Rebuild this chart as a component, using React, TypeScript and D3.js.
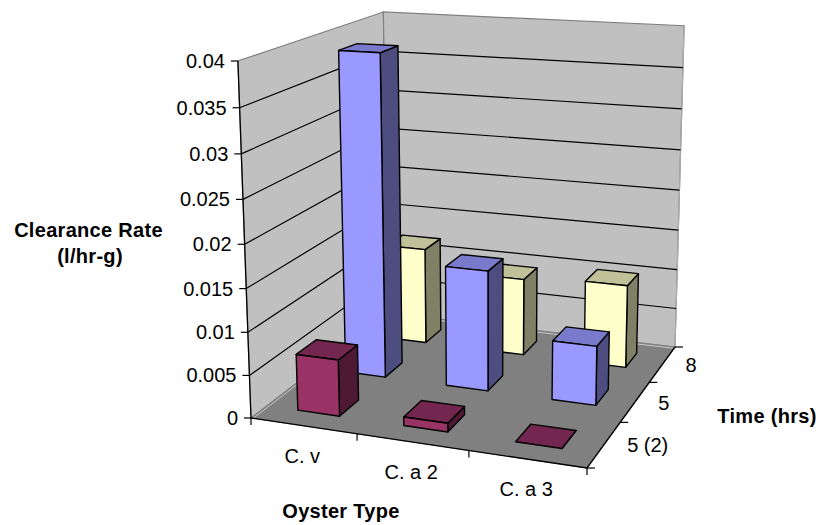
import React from "react";
import * as d3 from "d3";

const categories = ["C. v", "C. a 2", "C. a 3"];
const depthLabels = ["5 (2)", "5", "8"];
const valueTicks = [0, 0.005, 0.01, 0.015, 0.02, 0.025, 0.03, 0.035, 0.04];
const seriesFront = [0.0066, 0.001, 0];
const seriesMiddle = [0.0387, 0.0144, 0.007];
const seriesBack = [0.0121, 0.0096, 0.0102];
const seriesRows = [seriesBack, seriesMiddle, seriesFront];
const rowDepth = ["8", "5", "5 (2)"];
const rowColors = [
  { front: "#FFFFCC", side: "#808066", top: "#C0C099" },
  { front: "#9999FF", side: "#4D4D80", top: "#7A7ACC" },
  { front: "#993366", side: "#4D1933", top: "#732650" },
];

const FA: [number, number] = [251, 418];
const FB: [number, number] = [587, 468];
const FC: [number, number] = [675, 347];
const FD: [number, number] = [388, 313];
const VP: [number, number] = [489, 6903];
const topLeftY = 61;

function homography() {
  const [x0, y0] = FA, [x1, y1] = FB, [x2, y2] = FC, [x3, y3] = FD;
  const dx1 = x1 - x2, dx2 = x3 - x2, sx = x0 - x1 + x2 - x3;
  const dy1 = y1 - y2, dy2 = y3 - y2, sy = y0 - y1 + y2 - y3;
  const den = dx1 * dy2 - dx2 * dy1;
  const g = (sx * dy2 - dx2 * sy) / den;
  const h = (dx1 * sy - sx * dy1) / den;
  return {
    a: x1 - x0 + g * x1, b: x3 - x0 + h * x3, c: x0,
    d: y1 - y0 + g * y1, e: y3 - y0 + h * y3, f: y0,
    g, h,
  };
}
const H = homography();
const K = (topLeftY - FA[1]) / (VP[1] - topLeftY);

function project(u: number, v: number, z: number): [number, number] {
  const px = H.a * u + H.b * v + H.c + z * K * VP[0];
  const py = H.d * u + H.e * v + H.f + z * K * VP[1];
  const w = H.g * u + H.h * v + 1 + z * K;
  return [px / w, py / w];
}

const xBand = d3.scaleBand<string>().domain(categories).range([0, 1]).paddingInner(0.6).paddingOuter(0.3);
const yBand = d3.scaleBand<string>().domain(depthLabels).range([0, 1]).paddingInner(0.6).paddingOuter(0.3);
const zScale = d3.scaleLinear().domain([0, 0.04]).range([0, 1]);
const line = d3.line<[number, number]>().curve(d3.curveLinearClosed);
const seg = d3.line<[number, number]>();

const FONT = "'Liberation Sans', Arial, sans-serif";
const TICK_SIZE = 20;
const TITLE_SIZE = 20;

function Bar({ u0, u1, v0, v1, z, c }: any) {
  const f = (u: number, v: number, zz: number) => project(u, v, zz);
  const stroke = { stroke: "#000", strokeWidth: 1.4, strokeLinejoin: "round" as const };
  return (
    <g>
      <path d={line([f(u1, v0, 0), f(u1, v1, 0), f(u1, v1, z), f(u1, v0, z)])!} fill={c.side} {...stroke} />
      <path d={line([f(u0, v0, z), f(u1, v0, z), f(u1, v1, z), f(u0, v1, z)])!} fill={c.top} {...stroke} />
      {z > 0 && <path d={line([f(u0, v0, 0), f(u1, v0, 0), f(u1, v0, z), f(u0, v0, z)])!} fill={c.front} {...stroke} />}
    </g>
  );
}

export default function App() {
  const stepU = xBand.step();
  const stepV = yBand.step();
  const yMid = (d: string) => yBand(d)! + yBand.bandwidth() / 2;
  const xEdges = d3.range(categories.length + 1).map((i) => i * stepU);
  const vEdges = d3.range(depthLabels.length + 1).map((i) => i * stepV);
  return (
    <svg width={820} height={525} style={{ position: "absolute", left: 0, top: 0 }} fontFamily={FONT}>
      <rect width={820} height={525} fill="#fff" />
      <path d={line([project(0, 0, 0), project(0, 1, 0), project(0, 1, 1), project(0, 0, 1)])!} fill="#C0C0C0" stroke="#808080" strokeWidth={1.2} />
      <path d={line([project(0, 1, 0), project(1, 1, 0), project(1, 1, 1), project(0, 1, 1)])!} fill="#C0C0C0" stroke="#808080" strokeWidth={1.2} />
      <path d={seg([project(1, 1, 0), project(1, 1, 1)])!} stroke="#ABABAB" strokeWidth={1.2} fill="none" />
      <path d={line([project(0, 0, 0), project(1, 0, 0), project(1, 1, 0), project(0, 1, 0)])!} fill="#808080" stroke="#808080" strokeWidth={1} />
      <path d={seg([project(0, 0, 0), project(0, 1, 0), project(1, 1, 0)])!} stroke="#C8C8C8" strokeWidth={1} fill="none" transform="translate(0.5,1.5)" />

      {valueTicks.slice(1, -1).map((t) => (
        <path key={t} d={seg([project(0, 0, zScale(t)), project(0, 1, zScale(t)), project(1, 1, zScale(t))])!} stroke="#000" strokeWidth={1.2} fill="none" />
      ))}

      <path d={seg([project(0, 0, 1), project(0, 0, 0), project(1, 0, 0), project(1, 1, 0)])!} stroke="#000" strokeWidth={1.3} fill="none" />

      {valueTicks.map((t) => {
        const p = project(0, 0, zScale(t));
        return (
          <g key={t}>
            <line x1={p[0] - 7} x2={p[0]} y1={p[1]} y2={p[1]} stroke="#000" strokeWidth={1.2} />
            <text x={p[0] - 13} y={p[1] + 7} textAnchor="end" fontSize={TICK_SIZE} fill="#000">{t}</text>
          </g>
        );
      })}
      {xEdges.map((u, i) => {
        const p = project(u, 0, 0);
        return <line key={i} x1={p[0]} x2={p[0]} y1={p[1]} y2={p[1] + 7} stroke="#000" strokeWidth={1.2} />;
      })}
      {vEdges.map((v, i) => {
        const p = project(1, v, 0);
        return <line key={i} x1={p[0]} x2={p[0] + 8} y1={p[1]} y2={p[1]} stroke="#000" strokeWidth={1.2} />;
      })}
      {categories.map((c) => {
        const p = project(xBand(c)! + xBand.bandwidth() / 2, 0, 0);
        return <text key={c} x={p[0] - 1} y={p[1] + 37} textAnchor="middle" fontSize={TICK_SIZE}>{c}</text>;
      })}
      {depthLabels.map((d) => {
        const p = project(1, yMid(d), 0);
        return <text key={d} x={p[0] + 23} y={p[1] + 8} textAnchor="start" fontSize={TICK_SIZE}>{d}</text>;
      })}

      {seriesRows.map((vals, r) =>
        categories.map((cat, i) => (
          <Bar
            key={r + cat}
            u0={xBand(cat)!}
            u1={xBand(cat)! + xBand.bandwidth()}
            v0={yBand(rowDepth[r])!}
            v1={yBand(rowDepth[r])! + yBand.bandwidth()}
            z={zScale(vals[i])}
            c={rowColors[r]}
          />
        ))
      )}

      <g fontSize={TITLE_SIZE} fontWeight="bold" textAnchor="middle" letterSpacing={0.3}>
        <text x={88.5} y={237}>Clearance Rate</text>
        <text x={90} y={263}>(l/hr-g)</text>
        <text x={341} y={518}>Oyster Type</text>
        <text x={767} y={423}>Time (hrs)</text>
      </g>
    </svg>
  );
}
